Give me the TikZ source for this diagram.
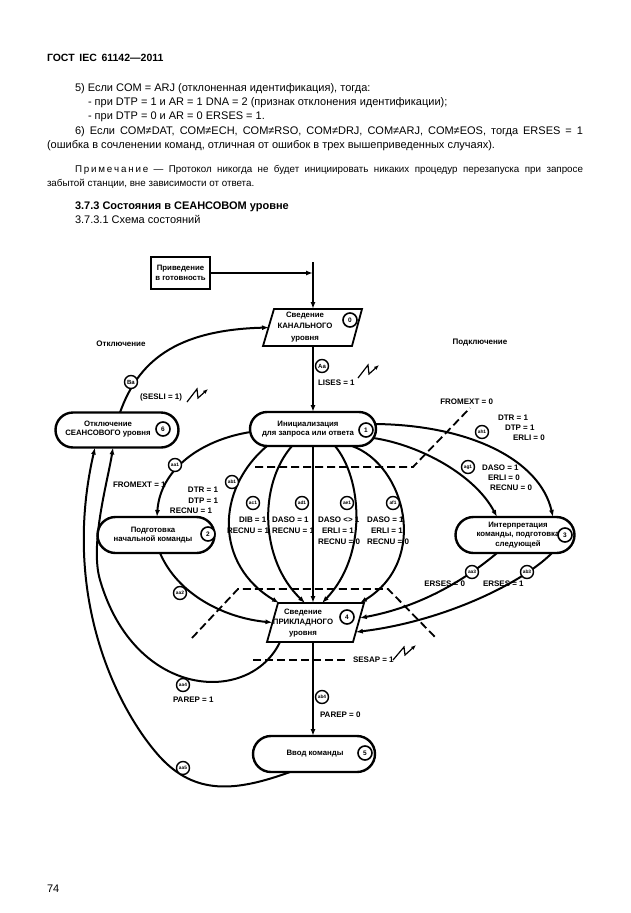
\documentclass[tikz,border=0pt]{standalone}
\usepackage{fontspec}
\setmainfont{Liberation Sans}
\usetikzlibrary{shapes.misc,arrows.meta,calc}
\begin{document}
\begin{tikzpicture}[x=1pt,y=-1pt,
  every node/.style={inner sep=0pt, outer sep=0pt},
  body/.style={anchor=base west, font=\fontsize{11}{13}\selectfont},
  note/.style={anchor=base west, font=\fontsize{9.8}{12}\selectfont},
  hd/.style={anchor=base west, font=\fontsize{11}{13}\selectfont\bfseries},
  st/.style={draw, line width=2.4pt, rounded rectangle},
  ntext/.style={align=center, font=\fontsize{7.8}{9.5}\selectfont\bfseries},
  num/.style={draw, circle, line width=1.6pt, minimum size=14pt, fill=white, font=\fontsize{6.5}{6.5}\selectfont\bfseries},
  tc/.style={draw, circle, line width=1.4pt, minimum size=13pt, fill=white, font=\fontsize{4.8}{4.8}\selectfont\bfseries},
  lbl/.style={font=\fontsize{8}{9}\selectfont\bfseries},
  ln/.style={line width=2pt},
  arr/.style={ln, -{Latex[length=7pt,width=5pt]}},
  dsh/.style={line width=1.8pt, dash pattern=on 8pt off 4pt},
  bolt/.style={line width=1.2pt, -{Latex[length=5pt,width=4pt]}},
]
\useasboundingbox (0,0) rectangle (630,913);
\fill[white] (0,0) rectangle (630,913);

% ---------------- page text ----------------
\node[hd, font=\fontsize{10.5}{12}\selectfont\bfseries] (h0) at (47,61) {ГОСТ\, IEC\, 61142—2011};
\node[body] (p1) at (75,91) {5) Если COM = ARJ (отклоненная идентификация), тогда:};
\node[body] (p2) at (88,105) {- при DTP = 1 и AR = 1 DNA = 2 (признак отклонения идентификации);};
\node[body] (p3) at (88,119) {- при DTP = 0 и AR = 0 ERSES = 1.};
\node[body] (p4) at (75,134) {\makebox[508pt][s]{6) Если COM≠DAT, COM≠ECH, COM≠RSO, COM≠DRJ, COM≠ARJ, COM≠EOS, тогда ERSES = 1}};
\node[body] (p5) at (47,148) {(ошибка в сочленении команд, отличная от ошибок в трех вышеприведенных случаях).};
\node[note] (q1) at (75,172) {\makebox[508pt][s]{П\kern1.8pt р\kern1.8pt и\kern1.8pt м\kern1.8pt е\kern1.8pt ч\kern1.8pt а\kern1.8pt н\kern1.8pt и\kern1.8pt е — Протокол никогда не будет инициировать никаких процедур перезапуска при запросе}};
\node[note] (q2) at (47,186) {забытой станции, вне зависимости от ответа.};
\node[hd] (s1) at (75,209) {3.7.3 Состояния в СЕАНСОВОМ уровне};
\node[body] (s2) at (75,223) {3.7.3.1 Схема состояний};
\node[body] (pg) at (47,892) {74};

% ---------------- states ----------------
\node[draw, line width=2.4pt, minimum width=59pt, minimum height=32pt, ntext] (b0) at (180.5,273) {Приведение\\в готовность};

\draw[line width=1.8pt] (274,309) -- (362,309) -- (352,346) -- (263,346) -- cycle;
\node[minimum width=88pt, minimum height=37pt] (n0) at (313,327.5) {};
\node[ntext, font=\fontsize{7.8}{11.5}\selectfont\bfseries] (x0) at (305,327) {Сведение\\КАНАЛЬНОГО\\уровня};

\node[st, minimum width=126pt, minimum height=34pt] (n1) at (313,429) {};
\node[ntext] (x1) at (308,429) {Инициализация\\для запроса или ответа};

\node[st, minimum width=123pt, minimum height=35pt] (n6) at (117,430) {};
\node[ntext] (x6) at (108,429) {Отключение\\СЕАНСОВОГО уровня};

\node[st, minimum width=117pt, minimum height=36pt] (n2) at (156,535) {};
\node[ntext] (x2) at (153,535) {Подготовка\\начальной команды};

\node[st, minimum width=119pt, minimum height=36pt] (n3) at (515,535) {};
\node[ntext] (x3) at (518,535) {Интерпретация\\команды, подготовка\\следующей};

\draw[line width=1.8pt] (278,603) -- (364,603) -- (353,642) -- (267,642) -- cycle;
\node[minimum width=86pt, minimum height=39pt] (n4) at (315.5,622.5) {};
\node[ntext, font=\fontsize{7.8}{10.5}\selectfont\bfseries] (x4) at (303,623) {Сведение\\ПРИКЛАДНОГО\\уровня};

\node[st, minimum width=122pt, minimum height=36pt] (n5) at (314,754) {};
\node[ntext] (x5) at (315,754) {Ввод команды};

% ---------------- connectors ----------------
\coordinate (vt) at (313,262);
\coordinate (vj) at (313,273);
\draw[arr] (b0.east) -- (vj);
\draw[arr] (vt) -- (n0.north);
\draw[arr] (n0.south) -- (n1.north);

\draw[arr] ($(n6.north)+(3,0)$) .. controls (138,362) and (175,330) .. (n0.west);
\draw[arr] ($(n1.west)+(0.5,3)$) .. controls (200,440) and (160,470) .. ($(n2.north)+(1,0)$);

\draw[arr] ($(n1.south)+(-46,0)$) .. controls (215,490) and (215,565) .. ($(n4.north)+(-36.5,0)$);
\draw[arr] ($(n1.south)+(-21,0)$) .. controls (258,485) and (260,560) .. ($(n4.north)+(-10.5,0)$);
\draw[arr] (n1.south) -- (n1.south |- n4.north);
\draw[arr] ($(n1.south)+(22,0)$) .. controls (362,478) and (368,555) .. ($(n4.north)+(6.5,0)$);
\draw[arr] ($(n1.south)+(39,0)$) .. controls (405,465) and (430,560) .. ($(n4.north)+(44.5,0)$);

\draw[arr] ($(n1.east)+(-1,-5)$) .. controls (470,425) and (540,460) .. ($(n3.north)+(38,0)$);
\draw[arr] ($(n1.east)+(-2.6,9)$) .. controls (420,445) and (475,475) .. ($(n3.north)+(-18,0)$);

\draw[arr] ($(n2.south)+(4,0)$) .. controls (178,595) and (225,618) .. (n4.west);
\draw[arr] ($(n3.south)+(-18,0)$) .. controls (465,580) and (420,607) .. ($(n4.east)+(1.3,-4.5)$);
\draw[arr] ($(n3.south)+(37,0)$) .. controls (520,585) and (440,622) .. ($(n4.east)+(-2.7,9.5)$);

\draw[arr] ($(n4.south)+(-35.5,0)$) .. controls (250,705) and (135,700) .. (100,580) .. controls (89.5,544) and (108,480) .. ($(n6.south)+(-4,0)$);
\draw[arr] ($(n5.south)+(-24,0)$) .. controls (235,792) and (195,795) .. (160,757) .. controls (120,713) and (60,600) .. ($(n6.south)+(-22,0)$);
\draw[arr] (n1.south |- n4.south) -- (n1.south |- n5.north);

% ---------------- dashed boundaries ----------------
\draw[dsh] (255,467) -- (413,467) -- (470,408);
\draw[dsh] (192,638) -- (238,589) -- (388,589) -- (435,637);
\draw[dsh] (253,660) -- (347,660);

% ---------------- lightning ----------------
\draw[bolt] (358,378) -- ++(10,-13) -- ++(1,9) -- ++(10,-9);
\draw[bolt] (187,402) -- ++(10,-13) -- ++(1,9) -- ++(10,-9);
\draw[bolt] (393,660) -- ++(11,-13) -- ++(1,8) -- ++(11,-10);

% ---------------- state numbers ----------------
\node[num] (k0) at (350,320) {0};
\node[num] (k1) at (366,430) {1};
\node[num] (k2) at (208,534) {2};
\node[num] (k3) at (565,535) {3};
\node[num] (k4) at (347,617) {4};
\node[num] (k5) at (365,753) {5};
\node[num] (k6) at (163,429) {6};

% ---------------- transition circles ----------------
\node[tc, font=\fontsize{6}{6}\selectfont\bfseries] (tAa) at (322,366) {Aa};
\node[tc, font=\fontsize{6}{6}\selectfont\bfseries] (tBa) at (131,382) {Ba};
\node[tc] (ta1) at (175,465) {aa1};
\node[tc] (tb1) at (232,482) {ab1};
\node[tc] (tc1) at (253,503) {ac1};
\node[tc] (td1) at (302,503) {ad1};
\node[tc] (te1) at (347,503) {ae1};
\node[tc] (tf1) at (393,503) {af1};
\node[tc] (tg1) at (468,467) {ag1};
\node[tc] (th1) at (482,432) {ah1};
\node[tc] (ta2) at (180,593) {aa2};
\node[tc] (ta3) at (472,572) {aa3};
\node[tc] (tb3) at (527,572) {ab3};
\node[tc] (ta4) at (183,685) {aa4};
\node[tc] (tb4) at (322,697) {ab4};
\node[tc] (ta5) at (183,768) {aa5};

% ---------------- labels ----------------
\node[lbl] (l01) at (121,344) {Отключение};
\node[lbl] (l02) at (480,343) {Подключение};
\node[lbl, anchor=west] (l03) at (318,383) {LISES = 1};
\node[lbl, anchor=west] (l04) at (140,397) {(SESLI = 1)};
\node[lbl, anchor=east] (l05) at (493,402) {FROMEXT = 0};
\node[lbl, anchor=west] (l06) at (498,418) {DTR = 1};
\node[lbl, anchor=west] (l07) at (505,428) {DTP = 1};
\node[lbl, anchor=west] (l08) at (513,438) {ERLI = 0};
\node[lbl, anchor=west] (l09) at (482,468) {DASO = 1};
\node[lbl, anchor=west] (l10) at (488,478) {ERLI = 0};
\node[lbl, anchor=west] (l11) at (490,488) {RECNU = 0};
\node[lbl, anchor=west] (l12) at (113,485) {FROMEXT = 1};
\node[lbl, anchor=east] (l13) at (218,490) {DTR = 1};
\node[lbl, anchor=east] (l14) at (218,501) {DTP = 1};
\node[lbl, anchor=east] (l15) at (212,511) {RECNU = 1};
\node[lbl, anchor=west] (l16) at (239,520) {DIB = 1};
\node[lbl, anchor=west] (l17) at (227,531) {RECNU = 1};
\node[lbl, anchor=west] (l18) at (272,520) {DASO = 1};
\node[lbl, anchor=west] (l19) at (272,531) {RECNU = 1};
\node[lbl, anchor=west] (l20) at (318,520) {DASO <> 1};
\node[lbl, anchor=west] (l21) at (322,531) {ERLI = 1};
\node[lbl, anchor=west] (l22) at (318,542) {RECNU = 0};
\node[lbl, anchor=west] (l23) at (367,520) {DASO = 1};
\node[lbl, anchor=west] (l24) at (371,531) {ERLI = 1};
\node[lbl, anchor=west] (l25) at (367,542) {RECNU = 0};
\node[lbl, anchor=east] (l26) at (465,584) {ERSES = 0};
\node[lbl, anchor=west] (l27) at (483,584) {ERSES = 1};
\node[lbl, anchor=west] (l28) at (353,660) {SESAP = 1};
\node[lbl, anchor=west] (l29) at (173,700) {PAREP = 1};
\node[lbl, anchor=west] (l30) at (320,715) {PAREP = 0};
\end{tikzpicture}
\end{document}
